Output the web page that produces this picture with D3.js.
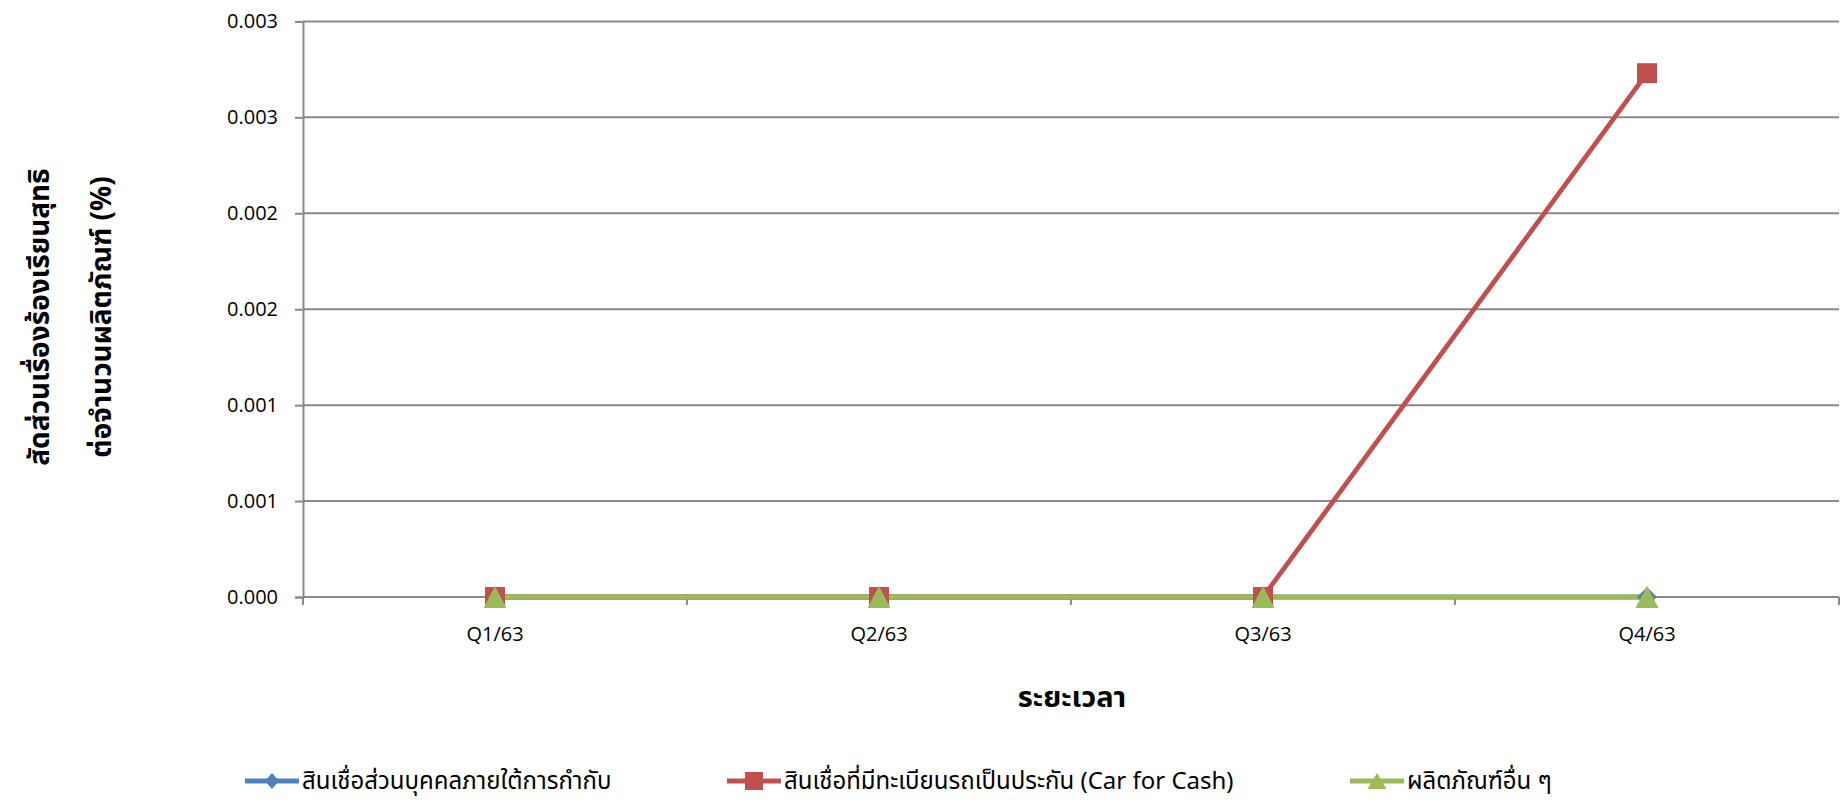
<!DOCTYPE html>
<html><head><meta charset="utf-8">
<script src="https://cdn.jsdelivr.net/npm/d3@7"></script>
<style>
body{margin:0;background:#fff;}
svg{display:block;}
.thai{font-family:"Noto Sans Thai","Noto Sans Thai Looped","Loma","Garuda","Tlwg Typo","Noto Sans",sans-serif;}
</style></head><body>
<svg id="c" width="1841" height="802"></svg>
<script>
const categories = ["Q1/63","Q2/63","Q3/63","Q4/63"];
const seriesNames = ["สินเชื่อส่วนบุคคลภายใต้การกำกับ","สินเชื่อที่มีทะเบียนรถเป็นประกัน (Car for Cash)","ผลิตภัณฑ์อื่น ๆ"];
const personalLoan = [0, 0, 0, 0];
const carForCash = [0, 0, 0, 0.00273];
const otherProducts = [0, 0, 0, 0];
const yTickValues = [0, 0.0005, 0.001, 0.0015, 0.002, 0.0025, 0.003];
const yTickLabels = ["0.000","0.001","0.001","0.002","0.002","0.003","0.003"];
const yTitle = ["สัดส่วนเรื่องร้องเรียนสุทธิ","ต่อจำนวนผลิตภัณฑ์ (%)"];
const xTitle = "ระยะเวลา";

const colors = ["#4F81BD","#C0504D","#9BBB59"];
const series = [personalLoan, carForCash, otherProducts];

const svg = d3.select("#c");
const L = 303, R = 1839, T = 21.4, B = 597;
const x = d3.scaleBand().domain(categories).range([L, R]);
const y = d3.scaleLinear().domain([0, 0.003]).range([B, T]);

// gridlines
svg.append("g").selectAll("line").data(yTickValues).join("line")
  .attr("x1", L).attr("x2", R).attr("y1", d=>y(d)).attr("y2", d=>y(d))
  .attr("stroke", "#898989").attr("stroke-width", 2);

// y axis
const ya = svg.append("g").attr("transform", `translate(${L},0)`)
  .call(d3.axisLeft(y).tickValues(yTickValues).tickFormat((d,i)=>yTickLabels[i]).tickSizeOuter(0).tickSize(8).tickPadding(17));
ya.select(".domain").attr("stroke","#898989").attr("stroke-width",2);
ya.selectAll(".tick line").attr("stroke","#898989").attr("stroke-width",2);
ya.selectAll("text").attr("font-family","'Open Sans',sans-serif").attr("font-size",20).attr("fill","#000");

// x axis
const xa = svg.append("g").attr("transform", `translate(0,${B})`)
  .call(d3.axisBottom(x).tickSize(0).tickPadding(26));
xa.select(".domain").remove();
xa.selectAll("text").attr("font-family","'Open Sans',sans-serif").attr("font-size",20).attr("fill","#000").attr("dy","0.9em");
const bounds = categories.map(c=>x(c)).concat([x(categories[categories.length-1])+x.bandwidth()]);
svg.append("g").selectAll("line").data(bounds).join("line")
  .attr("x1", d=>d).attr("x2", d=>d).attr("y1", B).attr("y2", B+8)
  .attr("stroke","#898989").attr("stroke-width",2);

const cx = c => x(c) + x.bandwidth()/2;
const line = d3.line().x((d,i)=>cx(categories[i])).y(d=>y(d));

// marker shapes (w = width, h = height)
const diamondPath = (w,h) => `M0,${-h/2}L${w/2},0L0,${h/2}L${-w/2},0Z`;
const squarePath = (w,h) => `M${-w/2},${-h/2}H${w/2}V${h/2}H${-w/2}Z`;
const trianglePath = (w,h) => `M0,${-h/2}L${w/2},${h/2}L${-w/2},${h/2}Z`;
const shapes = [diamondPath, squarePath, trianglePath];
const chartSize = [[20,20],[20,20],[23,22]];
const legendSize = [[14,16],[18,18],[19,16]];

series.forEach((s, k) => {
  svg.append("path").datum(s).attr("d", line).attr("fill","none")
    .attr("stroke", colors[k]).attr("stroke-width", 4.8).attr("stroke-linejoin","round");
});
series.forEach((s, k) => {
  svg.append("g").selectAll("path").data(s).join("path")
    .attr("transform", (d,i)=>`translate(${cx(categories[i])},${y(d)})`)
    .attr("d", shapes[k](...chartSize[k]))
    .attr("fill", colors[k]);
});

// y title
const yt = svg.append("text").attr("class","thai").attr("font-weight","bold").attr("font-size",28)
  .attr("text-anchor","middle").attr("transform","translate(0,317) rotate(-90)");
yt.append("tspan").attr("x",0).attr("y",49).text(yTitle[0]);
yt.append("tspan").attr("x",0).attr("y",111).text(yTitle[1]);

// x title
svg.append("text").attr("class","thai").attr("font-weight","bold").attr("font-size",29)
  .attr("text-anchor","middle").attr("x",1072).attr("y",707).text(xTitle);

// legend
const legX = [245, 727, 1350];
const lg = svg.append("g");
seriesNames.forEach((n,k)=>{
  const g = lg.append("g").attr("transform",`translate(${legX[k]},781)`);
  g.append("line").attr("x1",0).attr("x2",54).attr("y1",0).attr("y2",0)
    .attr("stroke",colors[k]).attr("stroke-width",4.8);
  g.append("path").attr("transform","translate(27,0)").attr("d", shapes[k](...legendSize[k])).attr("fill",colors[k]);
  g.append("text").attr("class","thai").attr("x",57).attr("y",8).attr("font-size",24).attr("fill","#000").text(n);
});
</script>
</body></html>
